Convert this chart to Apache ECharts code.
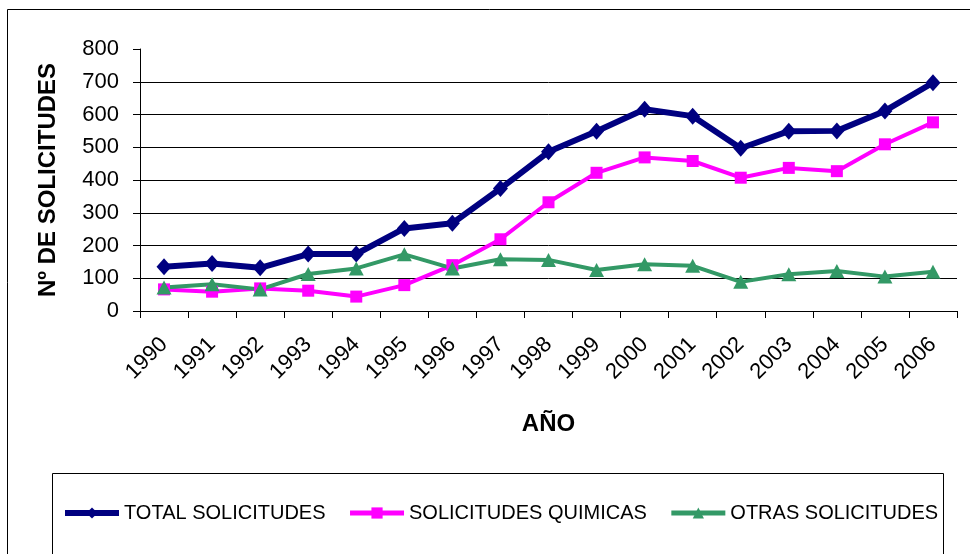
<!DOCTYPE html>
<html>
<head>
<meta charset="utf-8">
<title>Solicitudes</title>
<script src="https://cdn.jsdelivr.net/npm/echarts@6/dist/echarts.min.js"></script>
<style>
    html, body { margin: 0; padding: 0; background: #fff; }
    #chart { width: 970px; height: 554px; }
</style>
</head>
<body>
<div id="chart"></div>
<script>
    // datos
    const years = ['1990', '1991', '1992', '1993', '1994', '1995', '1996', '1997', '1998',
        '1999', '2000', '2001', '2002', '2003', '2004', '2005', '2006'];
    const totalSolicitudes = [135, 145, 132, 174, 174, 252, 268, 374, 486, 549, 616, 595, 497, 549, 550, 611, 697];
    const solicitudesQuimicas = [66, 59, 69, 62, 44, 79, 140, 219, 332, 422, 469, 458, 407, 437, 427, 509, 576];
    const otrasSolicitudes = [72, 82, 66, 113, 130, 173, 130, 158, 156, 125, 143, 138, 89, 112, 122, 105, 120];
    const yTicks = [0, 100, 200, 300, 400, 500, 600, 700, 800];

    const font = 'Liberation Sans, Arial, sans-serif';

    let myChart = echarts.init(document.getElementById('chart'));
    let option = {
        backgroundColor: '#fff',
        animation: false,
        graphic: [
            {
                type: 'rect',
                shape: { x: 7.5, y: 9.5, width: 980, height: 560 },
                style: { fill: 'none', stroke: '#000', lineWidth: 1 },
                silent: true
            },
            {
                type: 'rect',
                shape: { x: 52.5, y: 473.5, width: 891, height: 100 },
                style: { fill: 'none', stroke: '#000', lineWidth: 1 },
                silent: true
            }
        ],
        grid: {
            left: 140,
            right: 13,
            top: 49,
            bottom: 243,
            containLabel: false
        },
        legend: {
            left: 57,
            top: 498,
            itemWidth: 54,
            itemHeight: 14,
            itemGap: 22,
            textStyle: { fontFamily: font, fontSize: 20, color: '#000' },
            data: [
                { name: 'TOTAL SOLICITUDES', lineStyle: { width: 6 } },
                { name: 'SOLICITUDES QUIMICAS', lineStyle: { width: 5 } },
                { name: 'OTRAS SOLICITUDES', lineStyle: { width: 5 } }
            ]
        },
        xAxis: {
            type: 'category',
            data: years,
            name: 'AÑO',
            nameLocation: 'middle',
            nameGap: 101,
            nameTextStyle: { fontFamily: font, fontSize: 24, fontWeight: 'bold', color: '#000' },
            axisLine: { lineStyle: { color: '#000', width: 1 } },
            axisTick: { show: true, length: 7, lineStyle: { color: '#000' } },
            axisLabel: {
                rotate: 45,
                margin: 30,
                fontFamily: font,
                fontSize: 22,
                color: '#000'
            },
            splitLine: { show: false }
        },
        yAxis: {
            type: 'value',
            min: 0,
            max: 800,
            interval: 100,
            name: 'Nº DE SOLICITUDES',
            nameLocation: 'middle',
            nameGap: 80,
            nameTextStyle: { fontFamily: font, fontSize: 24, fontWeight: 'bold', color: '#000' },
            axisLine: { show: true, lineStyle: { color: '#000', width: 1 } },
            axisTick: { show: true, length: 7, lineStyle: { color: '#000' } },
            axisLabel: {
                margin: 21,
                fontFamily: font,
                fontSize: 22,
                color: '#000',
                formatter: function (v) {
                    return yTicks.indexOf(v) >= 0 ? String(v) : '';
                }
            },
            splitLine: { show: true, showMaxLine: false, lineStyle: { color: '#000', width: 1 } }
        },
        series: [
            {
                name: 'TOTAL SOLICITUDES',
                type: 'line',
                data: totalSolicitudes,
                color: '#000080',
                symbol: 'diamond',
                symbolSize: [15, 17],
                lineStyle: { width: 6, color: '#000080' },
                itemStyle: { color: '#000080' }
            },
            {
                name: 'SOLICITUDES QUIMICAS',
                type: 'line',
                data: solicitudesQuimicas,
                color: '#ff00ff',
                symbol: 'rect',
                symbolSize: 12,
                lineStyle: { width: 4, color: '#ff00ff' },
                itemStyle: { color: '#ff00ff' }
            },
            {
                name: 'OTRAS SOLICITUDES',
                type: 'line',
                data: otrasSolicitudes,
                color: '#339966',
                symbol: 'triangle',
                symbolSize: [15, 14],
                lineStyle: { width: 4, color: '#339966' },
                itemStyle: { color: '#339966' }
            }
        ]
    };

    myChart.setOption(option);
</script>
</body>
</html>
